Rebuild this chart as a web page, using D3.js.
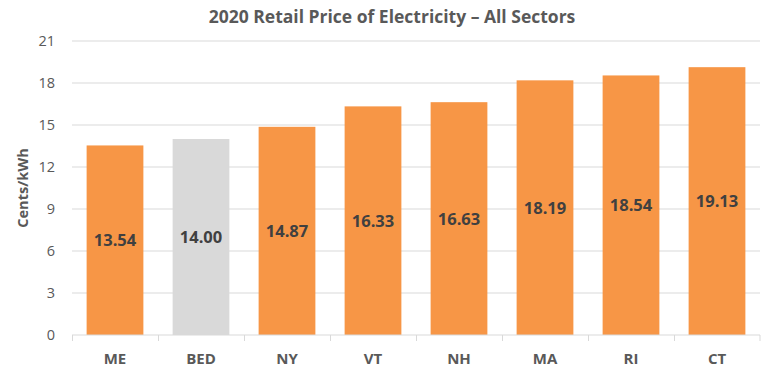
<!DOCTYPE html>
<meta charset="utf-8">
<style>
  body { margin: 0; background: #fff; }
  #chart text { font-family: "Open Sans", "Liberation Sans", sans-serif; }
</style>
<script src="https://d3js.org/d3.v7.min.js"></script>
<div id="chart"></div>
<script>
// data
var regions = ["ME", "BED", "NY", "VT", "NH", "MA", "RI", "CT"];
var prices = [13.54, 14.00, 14.87, 16.33, 16.63, 18.19, 18.54, 19.13];
var yTicks = [0, 3, 6, 9, 12, 15, 18, 21];

var W = 768, H = 385;
var margin = {top: 41, right: 8, bottom: 50, left: 72},
    width = W - margin.left - margin.right,
    height = H - margin.top - margin.bottom;

var svg = d3.select("#chart").append("svg")
    .attr("width", W)
    .attr("height", H);

var g = svg.append("g")
    .attr("transform", "translate(" + margin.left + "," + margin.top + ")");

var x = d3.scaleBand()
    .domain(regions)
    .range([0, width])
    .paddingInner(0.34)
    .paddingOuter(0.17);

var y = d3.scaleLinear()
    .domain([0, 21])
    .range([height, 0]);

// gridlines
g.selectAll(".grid")
  .data(yTicks.slice(1))
  .enter().append("line")
    .attr("x1", 0).attr("x2", width)
    .attr("y1", function(d) { return y(d); })
    .attr("y2", function(d) { return y(d); })
    .attr("stroke", "#d9d9d9")
    .attr("stroke-width", 1);

// y axis labels
var yAxis = g.append("g")
    .call(d3.axisLeft(y).tickValues(yTicks).tickSize(0).tickPadding(17));
yAxis.select(".domain").remove();
yAxis.selectAll("text")
    .attr("fill", "#595959")
    .style("font-size", "14.5px");

// bars
g.selectAll(".bar")
  .data(prices)
  .enter().append("rect")
    .attr("x", function(d, i) { return x(regions[i]); })
    .attr("y", function(d) { return y(d); })
    .attr("width", x.bandwidth())
    .attr("height", function(d) { return height - y(d); })
    .attr("fill", function(d, i) { return regions[i] == "BED" ? "#d9d9d9" : "#f79646"; });

// value labels in the middle of the bars
g.selectAll(".val")
  .data(prices)
  .enter().append("text")
    .attr("x", function(d, i) { return x(regions[i]) + x.bandwidth() / 2; })
    .attr("y", function(d) { return (y(d) + height) / 2; })
    .attr("dy", "0.36em")
    .attr("text-anchor", "middle")
    .attr("fill", "#404040")
    .style("font-size", "16.5px")
    .style("font-weight", "bold")
    .text(function(d) { return d.toFixed(2); });

// x axis with ticks between categories
var step = x.step();
var xAxis = g.append("g").attr("transform", "translate(0," + height + ")");
xAxis.append("line")
    .attr("x1", 0).attr("x2", width)
    .attr("stroke", "#d9d9d9");
xAxis.selectAll(".tk")
  .data(d3.range(regions.length + 1))
  .enter().append("line")
    .attr("x1", function(i) { return Math.min(i * step, width - 0.5) + 0.5; })
    .attr("x2", function(i) { return Math.min(i * step, width - 0.5) + 0.5; })
    .attr("y1", 0).attr("y2", 6)
    .attr("stroke", "#d9d9d9");
xAxis.selectAll(".lbl")
  .data(regions)
  .enter().append("text")
    .attr("x", function(d) { return x(d) + x.bandwidth() / 2; })
    .attr("y", 24)
    .attr("dy", "0.36em")
    .attr("text-anchor", "middle")
    .attr("fill", "#595959")
    .style("font-size", "15px")
    .style("font-weight", "bold")
    .text(function(d) { return d; });

// y axis title
svg.append("text")
    .attr("transform", "translate(23," + (margin.top + height / 2) + ") rotate(-90)")
    .attr("text-anchor", "middle")
    .attr("dy", "0.36em")
    .attr("fill", "#595959")
    .style("font-size", "14.5px")
    .style("font-weight", "bold")
    .text("Cents/kWh");

// title
svg.append("text")
    .attr("x", 392)
    .attr("y", 17)
    .attr("dy", "0.36em")
    .attr("text-anchor", "middle")
    .attr("fill", "#595959")
    .style("font-size", "17.5px")
    .style("font-weight", "bold")
    .text("2020 Retail Price of Electricity \u2013 All Sectors");
</script>
